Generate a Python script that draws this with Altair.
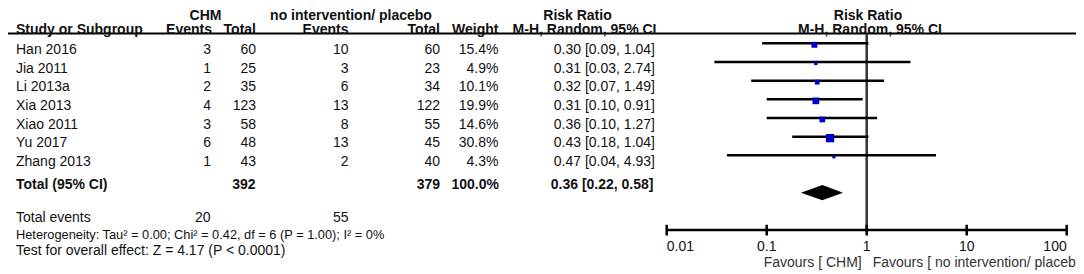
import altair as alt
import pandas as pd

# ---------------- data ----------------
studies = ["Han 2016", "Jia 2011", "Li 2013a", "Xia 2013", "Xiao 2011", "Yu 2017", "Zhang 2013"]
chm_events = [3, 1, 2, 4, 3, 6, 1]
chm_total = [60, 25, 35, 123, 58, 48, 43]
ctl_events = [10, 3, 6, 13, 8, 13, 2]
ctl_total = [60, 23, 34, 122, 55, 45, 40]
weights = [15.4, 4.9, 10.1, 19.9, 14.6, 30.8, 4.3]
rr = [0.30, 0.31, 0.32, 0.31, 0.36, 0.43, 0.47]
rr_lo = [0.09, 0.03, 0.07, 0.10, 0.10, 0.18, 0.04]
rr_hi = [1.04, 2.74, 1.49, 0.91, 1.27, 1.04, 4.93]

pooled_est, pooled_lo, pooled_hi = 0.36, 0.22, 0.58
total_chm, total_ctl, total_weight = 392, 379, 100.0
events_chm, events_ctl = 20, 55
heterogeneity = "Heterogeneity: Tau\u00b2 = 0.00; Chi\u00b2 = 0.42, df = 6 (P = 1.00); I\u00b2 = 0%"
overall = "Test for overall effect: Z = 4.17 (P < 0.0001)"
axis_ticks = [0.01, 0.1, 1, 10, 100]
tick_labels = ["0.01", "0.1", "1", "10", "100"]
tick_align = ["left", "center", "center", "center", "right"]
fav_left = "Favours [ CHM]"
fav_right = "Favours [ no intervention/ placebo"

# ---------------- styling ----------------
FONT = "Liberation Sans"
FS = 14
TXT = "#111111"
W, H = 1068, 266

n = len(studies)
df = pd.DataFrame({
    "row": list(range(n)),
    "study": studies,
    "ce": [str(v) for v in chm_events],
    "ct": [str(v) for v in chm_total],
    "pe": [str(v) for v in ctl_events],
    "pt": [str(v) for v in ctl_total],
    "wt": [f"{w:.1f}%" for w in weights],
    "rrtxt": [f"{r:.2f} [{l:.2f}, {h:.2f}]" for r, l, h in zip(rr, rr_lo, rr_hi)],
    "rr": rr,
    "lo": rr_lo,
    "hi": rr_hi,
    "w": weights,
})
df["sz"] = df["w"] * 2.25

# row i sits at 35.3 + 18.67*i px from the top of the plot
r0, rs = 35.3, 18.67
yscale = alt.Scale(domain=[-r0 / rs, (H - r0) / rs], reverse=True, nice=False, zero=False)
xscale = alt.Scale(type="log", domain=[10 ** -8.587, 10 ** ((W - 858.7) / 100)], nice=False)


def Y(f="row"):
    return alt.Y(f"{f}:Q", scale=yscale, axis=None)


def X(f):
    return alt.X(f"{f}:Q", scale=xscale, axis=None)


def lab(s, x, y, align="left", bold=False, size=FS):
    return alt.Chart(pd.DataFrame({"t": [s]})).mark_text(
        align=align, baseline="middle", font=FONT, fontSize=size,
        fontWeight="bold" if bold else "normal", color=TXT
    ).encode(x=alt.value(x), y=alt.value(y), text="t:N")


layers = []

# header line
hline_y = 25.6
layers.append(alt.Chart(pd.DataFrame({"a": [0]})).mark_rule(color="black", strokeWidth=2).encode(
    x=alt.value(-3), x2=alt.value(1071), y=alt.value(hline_y)))

# header texts
hy1, hy2 = 8.0, 21.6
layers += [
    lab("CHM", 197.5, hy1, "center", True),
    lab("no intervention/ placebo", 343, hy1, "center", True),
    lab("Risk Ratio", 569.5, hy1, "center", True),
    lab("Risk Ratio", 860, hy1, "center", True),
    lab("Study or Subgroup", 8, hy2, "left", True),
    lab("Events", 204, hy2, "right", True),
    lab("Total", 248, hy2, "right", True),
    lab("Events", 340.5, hy2, "right", True),
    lab("Total", 432, hy2, "right", True),
    lab("Weight", 490.5, hy2, "right", True),
    lab("M-H, Random, 95% CI", 648.5, hy2, "right", True),
    lab("M-H, Random, 95% CI", 862, hy2, "center", True),
]

# study rows text
cols = [("study", 8, "left"), ("ce", 203, "right"), ("ct", 248, "right"),
        ("pe", 340.5, "right"), ("pt", 432, "right"), ("wt", 490.5, "right"),
        ("rrtxt", 647, "right")]
for col, xp, al in cols:
    layers.append(alt.Chart(df).mark_text(
        align=al, baseline="middle", dy=6.8, font=FONT, fontSize=FS, color=TXT
    ).encode(x=alt.value(xp), y=Y(), text=f"{col}:N"))

# totals
ty = 176.8
layers += [
    lab("Total (95% CI)", 8, ty, "left", True),
    lab(str(total_chm), 247.5, ty, "right", True),
    lab(str(total_ctl), 432, ty, "right", True),
    lab(f"{total_weight:.1f}%", 491, ty, "right", True),
    lab(f"{pooled_est:.2f} [{pooled_lo:.2f}, {pooled_hi:.2f}]", 645.5, ty, "right", True),
    lab("Total events", 8, 209.8, "left"),
    lab(str(events_chm), 202.5, 209.8, "right"),
    lab(str(events_ctl), 340.5, 209.8, "right"),
    lab(heterogeneity, 8, 226.6, "left", size=12.8),
    lab(overall, 8, 242.8, "left"),
]

# vertical line of no effect
layers.append(alt.Chart(pd.DataFrame({"v": [1]})).mark_rule(color="#333333", strokeWidth=2.5).encode(
    x=X("v"), y=alt.value(hline_y), y2=alt.value(221.5)))

# CI lines
layers.append(alt.Chart(df).mark_rule(color="black", strokeWidth=2.5).encode(
    x=X("lo"), x2="hi", y=Y()))

# squares
layers.append(alt.Chart(df).mark_square(color="#0000c8", opacity=1, yOffset=1.5).encode(
    x=X("rr"), y=Y(), size=alt.Size("sz:Q", scale=None)))

# diamond
drow = n + 1
hh = 0.41
dd = pd.DataFrame({"x": [pooled_lo, pooled_est, pooled_hi],
                   "y": [drow, drow - hh, drow], "y2": [drow, drow + hh, drow]})
layers.append(alt.Chart(dd).mark_area(color="black", opacity=1).encode(
    x=X("x"), y=Y("y"), y2="y2"))

# axis
layers.append(alt.Chart(pd.DataFrame({"a": [axis_ticks[0]], "b": [axis_ticks[-1]]})).mark_rule(
    color="black", strokeWidth=2.5).encode(x=X("a"), x2="b", y=alt.value(222)))
tdf = pd.DataFrame({"t": axis_ticks, "lab": tick_labels, "al": tick_align})
layers.append(alt.Chart(tdf).mark_rule(color="black", strokeWidth=2.5).encode(
    x=X("t"), y=alt.value(216.8), y2=alt.value(227.5)))
for al in ["left", "center", "right"]:
    sub = tdf[tdf.al == al]
    layers.append(alt.Chart(sub).mark_text(
        align=al, baseline="middle", font=FONT, fontSize=FS, color=TXT
    ).encode(x=X("t"), y=alt.value(238.6), text="lab:N"))

# favours labels
layers.append(alt.Chart(pd.DataFrame({"v": [1], "t": [fav_left]})).mark_text(
    align="right", baseline="middle", dx=-5, font=FONT, fontSize=FS, color="#333333"
).encode(x=X("v"), y=alt.value(255), text="t:N"))
layers.append(alt.Chart(pd.DataFrame({"v": [1], "t": [fav_right]})).mark_text(
    align="left", baseline="middle", dx=6, font=FONT, fontSize=FS, color="#333333"
).encode(x=X("v"), y=alt.value(255), text="t:N"))

chart = alt.layer(*layers).properties(
    width=W, height=H, padding=0,
    autosize=alt.AutoSizeParams(type="none"),
).configure_view(stroke=None)

chart.save("out.html", embed_options={"renderer": "svg", "actions": False})
